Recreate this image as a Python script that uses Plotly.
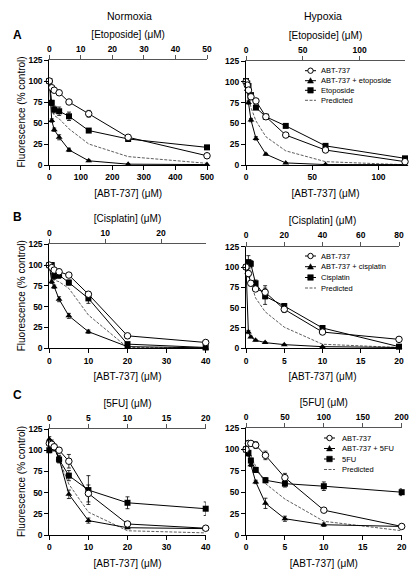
import plotly.graph_objects as go

W, H = 416, 579
def px(x): return x / W
def py(y): return 1 - y / H

# ---------------- DATA ----------------
# Panel A, Normoxia (etoposide)
a_n_x = [0, 7.8, 15.6, 31.25, 62.5, 125, 250, 500]
a_n_abt = [100, 92, 89, 86, 75, 61, 33, 11]
a_n_abt_err = [0, 2, 2, 2, 2, 4, 2, 1]
a_n_combo = [100, 53, 42, 33, 18, 5, 1, 0.5]
a_n_combo_err = [0, 2, 2, 3, 2, 1, 0.5, 0.5]
a_n_drug = [100, 74, 66, 64, 58, 41, 31, 21]
a_n_drug_err = [2, 3, 4, 5, 5, 2, 3, 2]
a_n_pred = [100, 68, 59, 55, 43, 25, 10, 2]

# Panel A, Hypoxia (etoposide)
a_h_x = [0, 0.94, 1.875, 3.75, 7.5, 15, 30, 60, 120]
a_h_abt = [100, 96, 90, 82, 77, 58, 36, 18, 4]
a_h_abt_err = [1, 2, 2, 2, 2, 2, 2, 2, 1]
a_h_combo = [100, 91, 75, 54, 32, 13, 2.5, 0.5, 0.5]
a_h_combo_err = [1, 2, 2, 2, 2, 1, 0.5, 0.5, 0.5]
a_h_drug = [101, 98, 95, 84, 69, 58, 47, 23, 8]
a_h_drug_err = [1, 2, 2, 2, 2, 2, 2, 2, 1]
a_h_pred = [100, 94, 86, 69, 53, 34, 17, 4, 0.3]

# Panel B, Normoxia (cisplatin)
b_n_x = [0, 0.625, 1.25, 2.5, 5, 10, 20, 40]
b_n_abt = [100, 97, 94, 92, 88, 65, 15, 7]
b_n_abt_err = [2, 2, 3, 3, 2, 3, 1, 1]
b_n_combo = [100, 80, 74, 59, 39, 20, 2, 0.5]
b_n_combo_err = [0, 2, 2, 3, 3, 2, 0.5, 0.5]
b_n_drug = [100, 100, 87, 88, 79, 60, 5, 1]
b_n_drug_err = [2, 3, 4, 4, 3, 6, 1, 0.5]
b_n_pred = [100, 90, 82, 80, 72, 40, 1, 0.3]

# Panel B, Hypoxia (cisplatin)
b_h_x = [0, 0.3125, 0.625, 1.25, 2.5, 5, 10, 20]
b_h_abt = [100, 92, 80, 73, 69, 48, 20, 11]
b_h_abt_err = [2, 4, 3, 3, 8, 4, 3, 2]
b_h_combo = [100, 20, 14, 10, 7, 4.5, 2, 1]
b_h_combo_err = [2, 2, 1, 1, 1, 0.5, 0.5, 0.5]
b_h_drug = [100, 106, 104, 80, 64, 52, 25, 2]
b_h_drug_err = [2, 8, 4, 4, 10, 3, 3, 1]
b_h_pred = [100, 90, 80, 62, 45, 26, 5, 1]

# Panel C, Normoxia (5FU)
c_n_x = [0, 0.625, 1.25, 2.5, 5, 10, 20, 40]
c_n_abt = [108, 107, 104, 100, 87, 49, 13, 8]
c_n_abt_err = [3, 3, 3, 3, 8, 10, 2, 1]
c_n_combo = [113, 109, 104, 90, 48, 17, 8.6, 7.5]
c_n_combo_err = [3, 3, 3, 4, 5, 3, 1, 1]
c_n_drug = [100, 105, 103, 89, 70, 53, 38, 31]
c_n_drug_err = [3, 4, 4, 4, 6, 17, 7, 8]
c_n_pred = [104, 110, 107, 89, 60, 27, 5, 2.5]

# Panel C, Hypoxia (5FU)
c_h_x = [0, 0.3125, 0.625, 1.25, 2.5, 5, 10, 20]
c_h_abt = [100, 107, 107, 105, 93, 67, 29, 10]
c_h_abt_err = [2, 3, 3, 4, 5, 5, 1, 1]
c_h_combo = [100, 94, 82, 62, 37, 19, 12, 10]
c_h_combo_err = [2, 2, 2, 2, 6, 3, 2, 1]
c_h_drug = [100, 96, 87, 76, 64, 60, 57, 50]
c_h_drug_err = [2, 2, 2, 3, 3, 4, 5, 4]
c_h_pred = [100, 100, 93, 80, 60, 42, 16, 5]

# Axis ticks
y_ticks = [0, 25, 50, 75, 100, 125]
a_n_bottom_ticks = [0, 100, 200, 300, 400, 500]
a_n_top_ticks = [0, 10, 20, 30, 40, 50]
a_h_bottom_ticks = [0, 50, 100]
a_h_top_ticks = [0, 50, 100]
b_n_bottom_ticks = [0, 10, 20, 30, 40]
b_n_top_ticks = [0, 10, 20]
b_h_bottom_ticks = [0, 5, 10, 15, 20]
b_h_top_ticks = [0, 20, 40, 60, 80]
c_n_bottom_ticks = [0, 10, 20, 30, 40]
c_n_top_ticks = [0, 5, 10, 15, 20]
c_h_bottom_ticks = [0, 5, 10, 15, 20]
c_h_top_ticks = [0, 50, 100, 150, 200]

panels = [
    dict(x=a_n_x, abt=a_n_abt, abt_e=a_n_abt_err, combo=a_n_combo, combo_e=a_n_combo_err,
         drug=a_n_drug, drug_e=a_n_drug_err, pred=a_n_pred, brange=[0, 500], bticks=a_n_bottom_ticks,
         trange=[0, 50], tticks=a_n_top_ticks, ttitle="[Etoposide] (μM)", dom=(49.3, 207, 60, 165), left=True),
    dict(x=a_h_x, abt=a_h_abt, abt_e=a_h_abt_err, combo=a_h_combo, combo_e=a_h_combo_err,
         drug=a_h_drug, drug_e=a_h_drug_err, pred=a_h_pred, brange=[0, 120], bticks=a_h_bottom_ticks,
         trange=[0, 140], tticks=a_h_top_ticks, ttitle="[Etoposide] (μM)", dom=(246, 405, 61, 165), left=False),
    dict(x=b_n_x, abt=b_n_abt, abt_e=b_n_abt_err, combo=b_n_combo, combo_e=b_n_combo_err,
         drug=b_n_drug, drug_e=b_n_drug_err, pred=b_n_pred, brange=[0, 40], bticks=b_n_bottom_ticks,
         trange=[0, 28], tticks=b_n_top_ticks, ttitle="[Cisplatin] (μM)", dom=(49.3, 205.7, 244.3, 348.3), left=True),
    dict(x=b_h_x, abt=b_h_abt, abt_e=b_h_abt_err, combo=b_h_combo, combo_e=b_h_combo_err,
         drug=b_h_drug, drug_e=b_h_drug_err, pred=b_h_pred, brange=[0, 20], bticks=b_h_bottom_ticks,
         trange=[0, 80], tticks=b_h_top_ticks, ttitle="[Cisplatin] (μM)", dom=(246, 399, 246.7, 348.3), left=False),
    dict(x=c_n_x, abt=c_n_abt, abt_e=c_n_abt_err, combo=c_n_combo, combo_e=c_n_combo_err,
         drug=c_n_drug, drug_e=c_n_drug_err, pred=c_n_pred, brange=[0, 40], bticks=c_n_bottom_ticks,
         trange=[0, 20], tticks=c_n_top_ticks, ttitle="[5FU] (μM)", dom=(49.3, 205.7, 429, 535), left=True),
    dict(x=c_h_x, abt=c_h_abt, abt_e=c_h_abt_err, combo=c_h_combo, combo_e=c_h_combo_err,
         drug=c_h_drug, drug_e=c_h_drug_err, pred=c_h_pred, brange=[0, 20], bticks=c_h_bottom_ticks,
         trange=[0, 200], tticks=c_h_top_ticks, ttitle="[5FU] (μM)", dom=(246, 401.7, 428, 535), left=False),
]

FONT = "Liberation Sans, Arial, Helvetica, sans-serif"
tickfont = dict(family=FONT, size=8.5, color="black", weight="bold")
titlefont = dict(family=FONT, size=10, color="black")

fig = go.Figure()
layout = dict(
    width=W, height=H, margin=dict(l=0, r=0, t=0, b=0),
    paper_bgcolor="white", plot_bgcolor="white", showlegend=False,
    font=dict(family=FONT, color="black"),
)
annotations = []

def err(arr):
    return dict(type="data", array=arr, visible=True, color="black", thickness=0.8, width=2)

for i, p in enumerate(panels, start=1):
    xa = "x" if i == 1 else f"x{i}"
    ya = "y" if i == 1 else f"y{i}"
    xt = f"x{i + 6}"
    x0, x1, yt, yb = p["dom"]
    fig.add_trace(go.Scatter(x=p["x"], y=p["pred"], mode="lines", xaxis=xa, yaxis=ya,
                             line=dict(color="#333", width=0.8, dash="3px,1.5px"), name="Predicted",
                             cliponaxis=False))
    fig.add_trace(go.Scatter(x=p["x"], y=p["drug"], mode="lines+markers", xaxis=xa, yaxis=ya,
                             line=dict(color="black", width=1), error_y=err(p["drug_e"]),
                             marker=dict(symbol="square", size=6, color="black"), cliponaxis=False))
    fig.add_trace(go.Scatter(x=p["x"], y=p["combo"], mode="lines+markers", xaxis=xa, yaxis=ya,
                             line=dict(color="black", width=1), error_y=err(p["combo_e"]),
                             marker=dict(symbol="triangle-up", size=6, color="black"), cliponaxis=False))
    fig.add_trace(go.Scatter(x=p["x"], y=p["abt"], mode="lines+markers", xaxis=xa, yaxis=ya,
                             line=dict(color="black", width=1), error_y=err(p["abt_e"]),
                             marker=dict(symbol="circle", size=6.5, color="white",
                                         line=dict(color="black", width=1)), cliponaxis=False))
    fig.add_trace(go.Scatter(x=[p["trange"][0]], y=[None], mode="markers", xaxis=xt, yaxis=ya,
                             marker=dict(opacity=0), hoverinfo="skip", showlegend=False))

    dom_x = [px(x0), px(x1)]
    dom_y = [py(yb), py(yt)]
    layout["xaxis" if i == 1 else f"xaxis{i}"] = dict(
        domain=dom_x, anchor=ya, range=p["brange"], tickvals=p["bticks"], showline=True, automargin=False,
        linecolor="black", linewidth=1, ticks="outside", ticklen=4, tickwidth=1, tickcolor="black",
        showgrid=False, zeroline=False, tickfont=tickfont,
        title=dict(text="[ABT-737] (μM)", font=titlefont, standoff=8))
    layout["yaxis" if i == 1 else f"yaxis{i}"] = dict(
        domain=dom_y, anchor=xa, range=[0, 125], tickvals=y_ticks, showline=True, automargin=False,
        linecolor="black", linewidth=1, ticks="outside", ticklen=4, tickwidth=1, tickcolor="black",
        showgrid=False, zeroline=False, tickfont=tickfont)
    layout[f"xaxis{i + 6}"] = dict(
        overlaying=xa, anchor=ya, side="top", range=p["trange"], tickvals=p["tticks"], showline=True,
        automargin=False,
        linecolor="#555", linewidth=1, ticks="outside", ticklen=4, tickwidth=1, tickcolor="#555",
        showgrid=False, zeroline=False, tickfont=tickfont,
        title=dict(text=p["ttitle"], font=titlefont, standoff=3))
    if p["left"]:
        annotations.append(dict(text="Fluorescence (% control)", textangle=-90, x=px(21),
                                y=py((yt + yb) / 2), xref="paper", yref="paper", xanchor="center",
                                yanchor="middle", showarrow=False, font=titlefont))

annotations += [
    dict(text="Normoxia", x=px(129), y=py(16), xref="paper", yref="paper", showarrow=False,
         xanchor="center", yanchor="middle", font=dict(family=FONT, size=10.5, color="black")),
    dict(text="Hypoxia", x=px(323), y=py(16), xref="paper", yref="paper", showarrow=False,
         xanchor="center", yanchor="middle", font=dict(family=FONT, size=10.5, color="black")),
]
for letter, yy in [("A", 35), ("B", 217), ("C", 395)]:
    annotations.append(dict(text=f"<b>{letter}</b>", x=px(17.5), y=py(yy), xref="paper", yref="paper",
                            xanchor="center", yanchor="middle",
                            showarrow=False, font=dict(family=FONT, size=12, color="black")))

legend_specs = [
    (["ABT-737", "ABT-737 + etoposide", "Etoposide", "Predicted"], 305, 316, 319, [70.7, 80.7, 90.3, 100.3]),
    (["ABT-737", "ABT-737 + cisplatin", "Cisplatin", "Predicted"], 305, 316, 319, [256, 266.7, 277.5, 288]),
    (["ABT-737", "ABT-737 + 5FU", "5FU", "Predicted"], 324, 335, 340, [438, 448.5, 459, 469.5]),
]
shapes = []
for labels, sx0, sx1, tx, rows in legend_specs:
    mx = (sx0 + sx1) / 2
    for k, (lab, ry) in enumerate(zip(labels, rows)):
        annotations.append(dict(text=lab, x=px(tx), y=py(ry), xref="paper", yref="paper", xanchor="left",
                                yanchor="middle", showarrow=False,
                                font=dict(family=FONT, size=7.5, color="black")))
        if k == 3:
            shapes.append(dict(type="line", xref="paper", yref="paper", x0=px(sx0), x1=px(sx1),
                               y0=py(ry), y1=py(ry), line=dict(color="#333", width=0.8, dash="3px,1.5px")))
            continue
        shapes.append(dict(type="line", xref="paper", yref="paper", x0=px(sx0), x1=px(sx1),
                           y0=py(ry), y1=py(ry), line=dict(color="black", width=1)))
        r = 2.7
        if k == 0:
            shapes.append(dict(type="circle", xref="paper", yref="paper", x0=px(mx - r), x1=px(mx + r),
                               y0=py(ry + r), y1=py(ry - r), fillcolor="white",
                               line=dict(color="black", width=1)))
        elif k == 1:
            path = f"M {px(mx - 3)} {py(ry + 2.4)} L {px(mx + 3)} {py(ry + 2.4)} L {px(mx)} {py(ry - 3)} Z"
            shapes.append(dict(type="path", xref="paper", yref="paper", path=path, fillcolor="black",
                               line=dict(color="black", width=0.5)))
        else:
            shapes.append(dict(type="rect", xref="paper", yref="paper", x0=px(mx - 2.8), x1=px(mx + 2.8),
                               y0=py(ry + 2.8), y1=py(ry - 2.8), fillcolor="black",
                               line=dict(color="black", width=0.5)))

layout["annotations"] = annotations
layout["shapes"] = shapes
fig.update_layout(**layout)
fig.write_html("out.html", config={"displayModeBar": False},
               post_script="document.body.style.margin='0';")
